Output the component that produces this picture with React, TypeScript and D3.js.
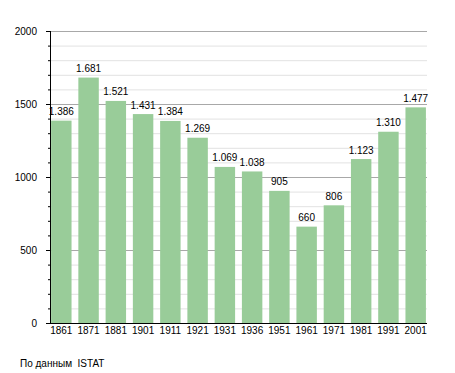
import { useEffect, useRef } from "react";
import * as d3 from "d3";

const years = ["1861", "1871", "1881", "1901", "1911", "1921", "1931", "1936", "1951", "1961", "1971", "1981", "1991", "2001"];
const population = [1386, 1681, 1521, 1431, 1384, 1269, 1069, 1038, 905, 660, 806, 1123, 1310, 1477];
const majorTicks = [0, 500, 1000, 1500, 2000];
const sourceNote = "По данным  ISTAT";

const fmt = (v: number) => (v >= 1000 ? `${Math.floor(v / 1000)}.${String(v % 1000).padStart(3, "0")}` : String(v));

export default function App() {
  const svgRef = useRef<SVGSVGElement>(null);

  useEffect(() => {
    if (!svgRef.current) return;
    const svg = d3.select(svgRef.current);
    svg.selectAll("*").remove();

    const left = 50;
    const right = 427;
    const top = 31;
    const bottom = 323;
    const font = "'Liberation Sans', Arial, sans-serif";

    const x = d3.scaleBand<string>().domain(years).range([left, right]).paddingInner(0.25).paddingOuter(0.04);
    const y = d3.scaleLinear().domain([0, 2000]).range([bottom, top]);

    // minor grid every 100
    const minor = d3.range(100, 2001, 100).filter((v) => v % 500 !== 0);
    svg.append("g")
      .selectAll("line")
      .data(minor)
      .enter()
      .append("line")
      .attr("x1", left)
      .attr("x2", right)
      .attr("y1", (d) => y(d) + 0.5)
      .attr("y2", (d) => y(d) + 0.5)
      .attr("stroke", "#e2e2e2")
      .attr("stroke-width", 1);

    svg.append("g")
      .selectAll("line")
      .data(majorTicks.filter((v) => v > 0))
      .enter()
      .append("line")
      .attr("x1", left)
      .attr("x2", right)
      .attr("y1", (d) => y(d) + 0.5)
      .attr("y2", (d) => y(d) + 0.5)
      .attr("stroke", "#a8a8a8")
      .attr("stroke-width", 1);

    // bars
    svg.append("g")
      .selectAll("rect")
      .data(population)
      .enter()
      .append("rect")
      .attr("x", (_, i) => x(years[i])!)
      .attr("y", (d) => y(d))
      .attr("width", x.bandwidth())
      .attr("height", (d) => bottom - y(d))
      .attr("fill", "#99cc99");

    // value labels
    svg.append("g")
      .selectAll("text")
      .data(population)
      .enter()
      .append("text")
      .attr("x", (_, i) => x(years[i])! + x.bandwidth() / 2)
      .attr("y", (d) => y(d) - 5.5)
      .attr("text-anchor", "middle")
      .attr("font-family", font)
      .attr("font-size", "10px")
      .attr("fill", "#000")
      .text((d) => fmt(d));

    // axes
    svg.append("line")
      .attr("x1", left + 0.5).attr("x2", left + 0.5)
      .attr("y1", top).attr("y2", bottom + 1)
      .attr("stroke", "#000");
    svg.append("line")
      .attr("x1", left).attr("x2", right)
      .attr("y1", bottom + 0.5).attr("y2", bottom + 0.5)
      .attr("stroke", "#000");

    svg.append("g")
      .selectAll("line")
      .data(d3.range(0, 2001, 100))
      .enter()
      .append("line")
      .attr("x1", (d) => (d % 500 === 0 ? left - 4 : left - 2))
      .attr("x2", left)
      .attr("y1", (d) => y(d) + 0.5)
      .attr("y2", (d) => y(d) + 0.5)
      .attr("stroke", "#000");

    svg.append("g")
      .selectAll("text")
      .data(majorTicks)
      .enter()
      .append("text")
      .attr("x", 37)
      .attr("y", (d) => y(d) + 4)
      .attr("text-anchor", "end")
      .attr("font-family", font)
      .attr("font-size", "10px")
      .text((d) => String(d));

    svg.append("g")
      .selectAll("text")
      .data(years)
      .enter()
      .append("text")
      .attr("x", (d) => x(d)! + x.bandwidth() / 2)
      .attr("y", 334)
      .attr("text-anchor", "middle")
      .attr("font-family", font)
      .attr("font-size", "10px")
      .text((d) => d);

    svg.append("text")
      .attr("x", 20)
      .attr("y", 366.5)
      .attr("font-family", font)
      .attr("font-size", "10px")
      .attr("xml:space", "preserve")
      .style("white-space", "pre")
      .text(sourceNote);
  }, []);

  return (
    <svg
      ref={svgRef}
      width={455}
      height={373}
      style={{ position: "absolute", left: 0, top: 0, background: "#fff" }}
    />
  );
}
